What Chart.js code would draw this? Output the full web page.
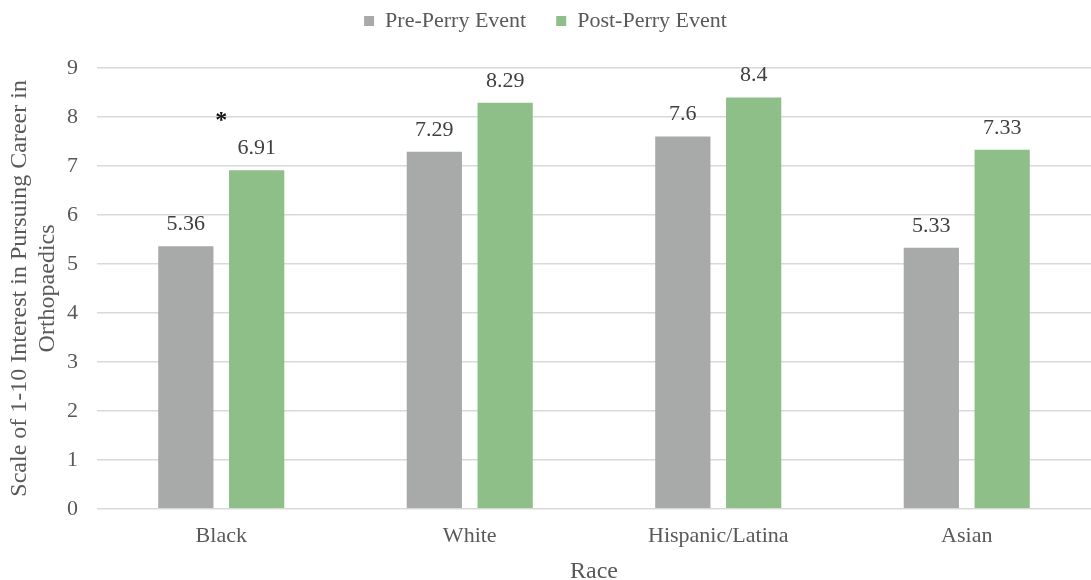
<!DOCTYPE html>
<html>
<head>
<meta charset="utf-8">
<script src="https://cdn.jsdelivr.net/npm/chart.js@4.4.1/dist/chart.umd.min.js"></script>
<style>
html,body{margin:0;padding:0;background:#fff;}
#wrap{width:1091px;height:580px;position:relative;}
</style>
</head>
<body>
<div id="wrap"><canvas id="c" width="1091" height="580"></canvas></div>
<script>
const categories = ['Black', 'White', 'Hispanic/Latina', 'Asian'];
const preValues = [5.36, 7.29, 7.6, 5.33];
const postValues = [6.91, 8.29, 8.4, 7.33];
const preLabels = ['5.36', '7.29', '7.6', '5.33'];
const postLabels = ['6.91', '8.29', '8.4', '7.33'];
const significance = ['*', '', '', ''];
const yTicks = [0, 1, 2, 3, 4, 5, 6, 7, 8, 9];

const FONT = "'Liberation Serif', 'Times New Roman', serif";

const legendMargin = {
  id: 'legendMargin',
  beforeInit(chart) {
    const orig = chart.legend.fit;
    chart.legend.fit = function () {
      orig.bind(chart.legend)();
      this.height += 26;
    };
  }
};

const labelPlugin = {
  id: 'valueLabels',
  afterDatasetsDraw(chart) {
    const ctx = chart.ctx;
    ctx.save();
    ctx.font = '22px ' + FONT;
    ctx.fillStyle = '#404040';
    ctx.textAlign = 'center';
    ctx.textBaseline = 'middle';
    const lbls = [preLabels, postLabels];
    chart.data.datasets.forEach((ds, di) => {
      const meta = chart.getDatasetMeta(di);
      meta.data.forEach((bar, i) => {
        ctx.fillText(lbls[di][i], bar.x, bar.y - 22);
      });
    });
    const postMeta = chart.getDatasetMeta(1);
    const xs = chart.scales.x;
    ctx.font = 'bold 24px ' + FONT;
    ctx.fillStyle = '#111';
    significance.forEach((s, i) => {
      if (!s) return;
      const bar = postMeta.data[i];
      ctx.fillText(s, xs.getPixelForValue(i), bar.y - 50);
    });
    ctx.restore();
  }
};

new Chart(document.getElementById('c'), {
  type: 'bar',
  data: {
    labels: categories,
    datasets: [
      { label: 'Pre-Perry Event', data: preValues, backgroundColor: '#A8A9A9',
        categoryPercentage: 0.57, barPercentage: 0.78 },
      { label: 'Post-Perry Event', data: postValues, backgroundColor: '#8FBF88',
        categoryPercentage: 0.57, barPercentage: 0.78 }
    ]
  },
  options: {
    responsive: false,
    animation: false,
    devicePixelRatio: 1,
    layout: { padding: { left: 0, right: 0, top: -20, bottom: 0 } },
    plugins: {
      legend: {
        position: 'top',
        labels: {
          boxWidth: 10, boxHeight: 10,
          padding: 30,
          color: '#595959',
          font: { family: FONT, size: 22 }
        }
      },
      tooltip: { enabled: false }
    },
    scales: {
      x: {
        grid: { display: false, drawTicks: false },
        border: { display: false },
        ticks: { color: '#595959', font: { family: FONT, size: 22 }, padding: 14 },
        title: { display: true, text: 'Race', color: '#595959', font: { family: FONT, size: 24, lineHeight: 0.7 }, padding: { top: 0, bottom: 0 } }
      },
      y: {
        min: 0, max: 9,
        afterBuildTicks(scale) { scale.ticks = yTicks.map(v => ({ value: v })); },
        afterFit(scale) { scale.width = 97; },
        grid: { color: '#D9D9D9', lineWidth: 1.5, drawTicks: false },
        border: { display: false },
        ticks: { color: '#595959', font: { family: FONT, size: 22 }, padding: 19 },
        title: {
          display: true,
          text: ['Scale of 1-10 Interest in Pursuing Career in', 'Orthopaedics'],
          color: '#595959',
          font: { family: FONT, size: 24, lineHeight: 1.15 },
          padding: { top: 6, bottom: 0 }
        }
      }
    }
  },
  plugins: [labelPlugin, legendMargin]
});
</script>
</body>
</html>
